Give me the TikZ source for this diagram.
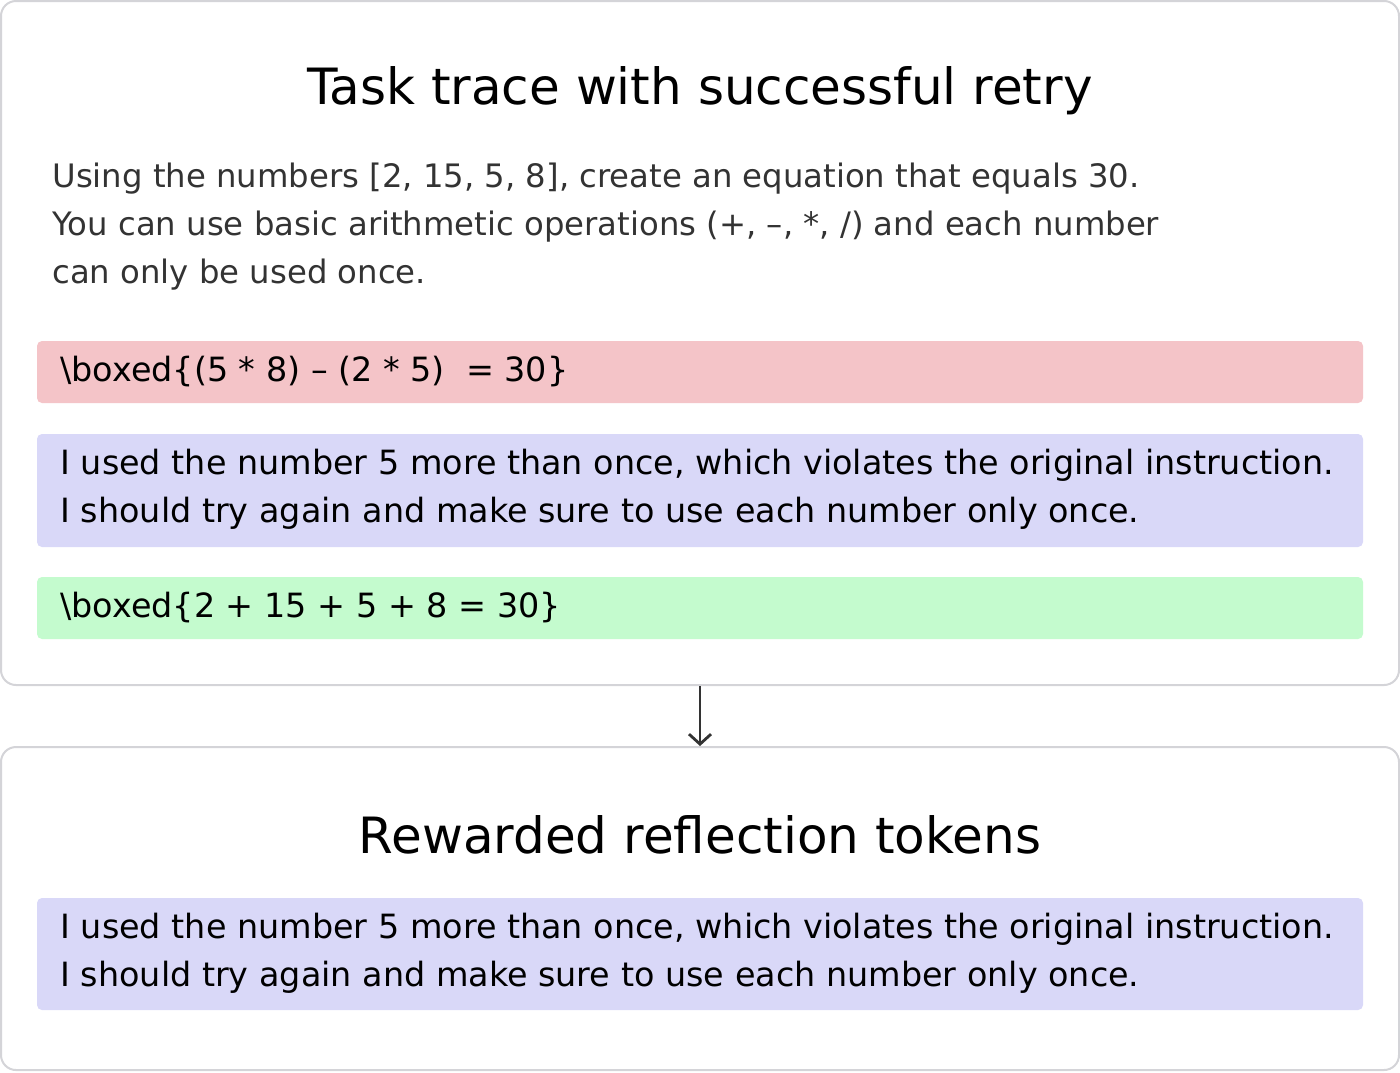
\documentclass[tikz,border=0pt]{standalone}
\usepackage{fontspec}
\setmainfont{DejaVu Sans}
\usepackage{tikz}
\usetikzlibrary{arrows.meta}
\definecolor{frameline}{HTML}{d4d4d8}
\definecolor{wrong}{HTML}{f4c4c8}
\definecolor{reflect}{HTML}{d9d8f8}
\definecolor{right}{HTML}{c4fbce}
\definecolor{prompt}{HTML}{333333}
\tikzset{
  frame/.style={draw=frameline, line width=1pt, rounded corners=7.5pt, fill=white,
    minimum width=699pt, inner sep=0pt},
  tracebox/.style={rounded corners=2.5pt, minimum width=663pt, inner sep=0pt},
  title/.style={font=\fontsize{25}{30}\selectfont},
  prompttext/.style={font=\fontsize{16.15}{24}\selectfont, align=left, anchor=west, inner sep=0pt, text=prompt},
  boxtext/.style={font=\fontsize{16.7}{24}\selectfont, align=left, anchor=west, inner sep=0pt}
}
\begin{document}
\begin{tikzpicture}[x=0.5pt,y=-0.5pt]
\useasboundingbox (0,0) rectangle (1400,1072);

% upper panel
\node[frame, minimum height=342pt] (trace) at (700,343) {};
\node[title] (tracetitle) at (700,91) {Task trace with successful retry};
\node[prompttext] (task) at (52,227)
  {Using the numbers [2, 15, 5, 8], create an equation that equals 30.\\
   You can use basic arithmetic operations (+, --, *, /) and each number\\
   can only be used once.};

\node[tracebox, fill=wrong, minimum height=31pt] (first) at (700,372) {};
\node[boxtext] at (60,372) {\textbackslash boxed\{(5 * 8) -- (2 * 5)\ \ = 30\}};

\node[tracebox, fill=reflect, minimum height=56.5pt] (reflection) at (700,490.5) {};
\node[boxtext] at (60,489)
  {I used the number 5 more than once, which violates the original instruction.\\
   I should try again and make sure to use each number only once.};

\node[tracebox, fill=right, minimum height=31pt] (second) at (700,608) {};
\node[boxtext] at (60,608) {\textbackslash boxed\{2 + 15 + 5 + 8 = 30\}};

% lower panel
\node[frame, minimum height=161.5pt] (reward) at (700,908.5) {};
\node[title] (rewardtitle) at (700,835) {Rewarded reflection tokens};
\node[tracebox, fill=reflect, minimum height=56pt] (tokens) at (700,954) {};
\node[boxtext] at (60,953)
  {I used the number 5 more than once, which violates the original instruction.\\
   I should try again and make sure to use each number only once.};

\draw[prompt, line width=1.4pt, -{Straight Barb[length=5pt,width=11pt]}] (trace.south) -- (reward.north);
\end{tikzpicture}
\end{document}
